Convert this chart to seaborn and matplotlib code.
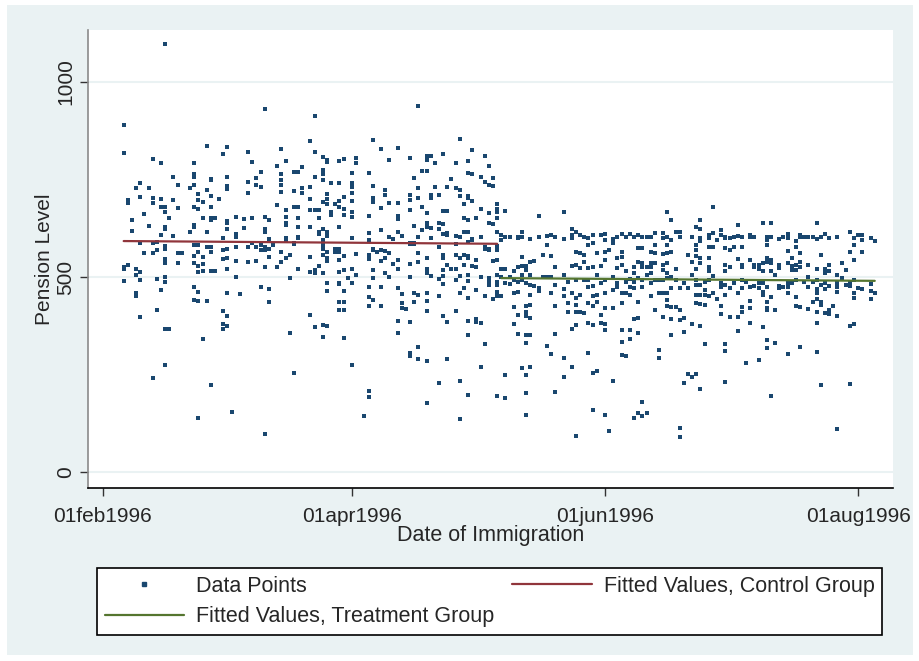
import numpy as np
import pandas as pd
import seaborn as sns
import matplotlib.pyplot as plt
from matplotlib.patches import Rectangle
from matplotlib.lines import Line2D

# x axis: days since 01feb1996
start = pd.Timestamp('1996-02-01')
tick_dates = ['1996-02-01', '1996-04-01', '1996-06-01', '1996-08-01']
tick_labels = ['01feb1996', '01apr1996', '01jun1996', '01aug1996']
y_ticks = [0, 500, 1000]

# control group (immigrated before the cutoff)
ctrl_days = [5, 6, 7, 8, 9, 10, 11, 12, 13, 14, 15, 16, 17, 18, 19, 21, 22, 23, 24, 25,
             26, 27, 28, 29, 30, 31, 32, 33, 34, 35, 36, 37, 38, 39, 40, 41, 42, 43, 44, 45,
             46, 47, 48, 50, 51, 52, 53, 54, 55, 56, 57, 58, 59, 60, 61, 63, 64, 65, 66, 67,
             68, 69, 70, 71, 72, 73, 74, 75, 76, 77, 78, 79, 80, 81, 82, 83, 84, 85, 86, 87,
             88, 89, 90, 91, 92, 93, 94, 95]
ctrl_vals = [
    [890, 818, 526, 520, 490], [696, 690, 531], [646, 618], [728, 520, 505, 459, 451],
    [741, 706, 588, 513, 492, 397], [662, 561], [728, 631], [802, 703, 690, 588, 561, 241],
    [590, 569, 495, 415], [792, 700, 680, 608, 467],
    [1097, 680, 667, 628, 623, 579, 572, 546, 536, 500, 487, 367, 274], [651, 367],
    [756, 696, 605], [736, 677, 562, 536], [562], [728, 615],
    [792, 764, 756, 736, 680, 633, 628, 582, 554, 536, 474, 441],
    [713, 696, 674, 582, 564, 528, 513, 462, 438, 138], [692, 651, 551, 533, 515, 341],
    [836, 723, 615, 578, 438], [752, 749, 708, 680, 651, 646, 577, 564, 515, 223],
    [651, 515], [700], [815, 600, 569, 546, 413, 379, 367],
    [833, 756, 733, 726, 644, 638, 623, 572, 549, 520, 459, 400, 374], [154],
    [654, 610, 603, 577, 541, 500], [456], [649, 626], [819, 744, 715, 577, 538],
    [795, 651, 587], [754, 736, 577, 541], [769, 731, 582, 569, 474],
    [931, 654, 623, 615, 577, 569, 526, 97], [646, 597, 572, 551, 469, 436], [582],
    [784, 685, 526], [828, 764, 749, 736, 718, 564, 538],
    [797, 672, 654, 638, 633, 600, 595, 549], [556, 497, 356],
    [769, 720, 680, 587, 585, 254], [769, 680, 651, 628, 603, 600, 520], [782, 728, 715],
    [849, 731, 700, 672, 628, 551, 513, 403], [913, 820, 756, 672, 518, 510, 372],
    [672, 651, 615, 610, 528],
    [808, 774, 764, 749, 692, 623, 595, 592, 582, 572, 556, 510, 377, 346],
    [800, 795, 713, 700, 687, 615, 605, 564, 549, 541, 485, 464, 374], [741, 667, 659],
    [687, 572, 564], [797, 741, 695, 680, 628, 572, 564, 544, 513, 485, 482, 436, 415],
    [802, 705, 674, 659, 554, 518, 464, 436, 415, 344], [497],
    [767, 741, 731, 715, 695, 667, 654, 600, 520, 485, 274], [805, 792, 559, 505], [144],
    [767, 656, 613, 595, 592, 556, 546, 474, 449, 426, 208, 192],
    [851, 733, 703, 692, 572, 570, 518, 497, 441], [564],
    [828, 677, 621, 569, 541, 474, 426], [723, 710, 567, 549, 510],
    [800, 690, 603, 562, 500], [597, 533],
    [831, 690, 656, 649, 615, 544, 520, 472, 387, 356], [605, 456, 433, 420], [418],
    [805, 710, 698, 672, 587, 585, 533, 500, 385, 305, 297],
    [754, 631, 587, 585, 459, 436], [939, 728, 703, 603, 562, 538, 454, 321, 290],
    [772, 680, 621], [810, 800, 772, 664, 638, 628, 549, 520, 510, 459, 438, 413, 285, 177],
    [810, 710, 703, 626, 600, 503], [792, 731], [710, 638, 623, 577, 495, 451, 228],
    [815, 669, 636, 610, 556, 549, 518, 503, 482, 400], [731, 669, 613, 608, 530, 385, 290],
    [751, 520], [792, 728, 605, 585, 556, 520, 492, 413],
    [854, 723, 708, 603, 549, 503, 459, 233, 136], [687, 651, 615, 556, 531, 472],
    [797, 767, 708, 703, 646, 615, 590, 554, 549, 505, 490, 446, 387, 351, 197],
    [826, 764, 695, 597, 595, 528], [651, 544, 526, 467, 392, 384],
    [756, 674, 603, 500, 382, 269], [810, 744, 577, 572, 451, 328],
    [785, 736, 664, 638, 572, 569, 497, 487, 479], [754, 733, 636, 541, 444],
    [687, 674, 667, 651, 614, 580, 569, 543, 505, 487, 480, 462, 451, 195],
]

# treatment group (immigrated after the cutoff)
treat_days = [96, 97, 98, 99, 100, 101, 102, 103, 104, 105, 106, 107, 108, 109, 111, 112,
              113, 114, 115, 116, 117, 118, 119, 120, 121, 122, 123, 124, 125, 126, 127, 128,
              129, 130, 131, 132, 133, 134, 135, 136, 137, 138, 139, 140, 141, 142, 143, 144,
              145, 146, 147, 148, 149, 150, 151, 152, 153, 154, 155, 156, 157, 158, 159, 160,
              161, 162, 163, 164, 165, 166, 167, 168, 169, 170, 171, 172, 173, 174, 175, 176,
              177, 178, 179, 180, 181, 182, 183, 185, 186]
treat_vals = [
    [608, 595, 520, 501, 450], [670, 603, 520, 484, 249, 189], [603, 499, 482],
    [514, 492, 460, 422, 379], [603, 599, 526, 488, 462, 402, 354],
    [616, 603, 550, 528, 505, 492, 266],
    [528, 518, 484, 426, 411, 400, 351, 330, 249, 203, 146],
    [597, 539, 505, 479, 454, 428, 396, 351, 268], [541, 477], [655, 603, 471, 464],
    [556, 499], [605, 582, 499, 324], [608, 554, 501, 458, 302],
    [603, 526, 479, 426, 353, 206], [666, 597, 505, 468, 451, 291, 244], [488, 434, 411],
    [622, 608, 599, 528, 458, 366, 268], [614, 565, 531, 491, 445, 428, 411, 377, 93],
    [608, 561, 522, 454, 411], [603, 556, 539, 491, 407],
    [599, 582, 522, 492, 475, 432, 381, 306], [608, 586, 525, 477, 450, 426, 376, 253, 159],
    [561, 505, 454, 437, 260], [608, 528, 484, 402, 381],
    [610, 595, 565, 543, 492, 458, 420, 379, 364, 146], [569, 106],
    [597, 586, 501, 467, 420, 232], [603, 548, 522, 484, 474],
    [610, 565, 550, 531, 458, 432, 364, 334, 300], [603, 516, 488, 460, 297],
    [610, 494, 475, 454, 364, 342], [603, 525, 509, 488, 471, 391, 138],
    [608, 574, 539, 497, 435, 394, 356, 150], [603, 574, 535, 525, 492, 475, 180, 144],
    [603, 526, 505, 150], [603, 565, 535, 526, 509, 484, 450],
    [612, 582, 562, 535, 492, 414], [492, 458, 313, 291],
    [612, 599, 559, 531, 518, 492, 460, 398], [666, 603, 582, 562, 535, 509, 497, 458, 441, 426],
    [645, 595, 565, 501, 471, 424, 391, 351], [616, 520, 492, 424],
    [616, 602, 471, 414, 390, 114, 90], [484, 394, 360, 229], [556, 471, 251],
    [602, 539, 505, 379, 243], [627, 582, 569, 554, 520, 492, 479, 454, 432, 251],
    [646, 622, 599, 591, 548, 535, 479, 454, 431, 373, 212], [488, 467, 454, 428, 328],
    [608, 599, 576, 548, 526, 514, 492, 450], [679, 612, 576, 503, 460], [595, 443],
    [620, 608, 484, 475, 426, 404], [603, 599, 574, 531, 514, 479, 454, 328, 311, 230],
    [599, 569, 526, 471, 398], [603, 576, 484], [633, 605, 545, 458, 397, 362],
    [603, 576, 531, 525, 492, 471, 424, 411], [488, 279],
    [608, 602, 543, 475, 439, 420, 381], [602, 531, 525, 477], [531, 520, 484, 471, 287],
    [639, 537, 514, 484, 462, 454, 371],
    [603, 595, 582, 548, 539, 475, 437, 420, 414, 339, 317],
    [638, 602, 543, 535, 514, 448, 195], [505, 414, 330], [597, 531, 522, 477, 471],
    [603, 475], [610, 599, 567, 535, 484, 475, 460, 302], [548, 528, 518, 484],
    [593, 578, 531, 518, 492, 448, 426], [608, 602, 561, 539, 525, 424, 321], [602, 488],
    [603, 531, 499, 473, 417], [602, 488, 437],
    [639, 597, 520, 492, 468, 458, 443, 409, 383, 308], [602, 556, 479, 437, 428, 223],
    [610, 520, 509, 484, 468, 407], [599, 531, 514, 477, 415, 404], [426],
    [603, 505, 484, 475, 462, 400, 109], [537, 497], [518, 479],
    [614, 565, 488, 477, 373, 226], [599, 582, 543, 492, 458, 445, 379], [608, 471],
    [608, 595, 565, 468], [599, 482, 465, 443], [593, 458],
]

# fitted values (linear fit per group) at the first and last day of each group
ctrl_fit = [592, 585]
treat_fit = [497, 490]

rows = [(d, v, 'Control') for d, vs in zip(ctrl_days, ctrl_vals) for v in vs]
rows += [(d, v, 'Treatment') for d, vs in zip(treat_days, treat_vals) for v in vs]
df = pd.DataFrame(rows, columns=['day', 'pension', 'group'])

fit_ctrl = pd.DataFrame({'day': [ctrl_days[0], ctrl_days[-1]], 'fit': ctrl_fit})
fit_treat = pd.DataFrame({'day': [treat_days[0], treat_days[-1]], 'fit': treat_fit})

navy = '#1A476F'
maroon = '#90353B'
green = '#55752F'
bg = '#EAF2F3'

sns.set_style('ticks')
plt.rcParams['font.family'] = ['Liberation Sans', 'DejaVu Sans']

fig = plt.figure(figsize=(9.19, 6.61), dpi=100)
fig.patches.append(Rectangle((7 / 919, 6 / 661), 906 / 919, 650 / 661,
                             transform=fig.transFigure, facecolor=bg,
                             edgecolor='none', zorder=-1))
ax = fig.add_axes([88 / 919, 1 - 488 / 661, 805 / 919, 458 / 661])
ax.set_facecolor('white')

sns.scatterplot(data=df, x='day', y='pension', ax=ax, color=navy, marker='s',
                s=11, linewidth=0, legend=False, zorder=3)
sns.lineplot(data=fit_ctrl, x='day', y='fit', ax=ax, color=maroon, lw=1.6, zorder=4)
sns.lineplot(data=fit_treat, x='day', y='fit', ax=ax, color=green, lw=1.6, zorder=4)

ax.set_xlim(-3.6, 190.4)
ax.set_ylim(-41, 1133)
tick_days = (pd.to_datetime(tick_dates) - start).days
ax.set_xticks(tick_days)
ax.set_xticklabels(tick_labels)
ax.set_yticks(y_ticks)
ax.set_yticklabels([str(t) for t in y_ticks], rotation=90, va='center')
ax.yaxis.grid(True, color=bg, lw=1.5)
ax.set_axisbelow(True)

for s in ['top', 'right']:
    ax.spines[s].set_visible(False)
ax.spines['left'].set_color('#8a8a8a')
ax.spines['bottom'].set_color('black')
ax.spines['left'].set_linewidth(1.2)
ax.spines['bottom'].set_linewidth(1.2)
ax.tick_params(axis='both', length=6, width=1, labelsize=15, color='#333333')
ax.tick_params(axis='x', pad=8)
ax.tick_params(axis='y', pad=3)

ax.set_xlabel('Date of Immigration', fontsize=15.5, labelpad=-1)
ax.set_ylabel('Pension Level', fontsize=15, labelpad=1.5)

handles = [Line2D([], [], marker='s', ls='none', color=navy, markersize=2.5),
           Line2D([], [], color=green, lw=1.6),
           Line2D([], [], color=maroon, lw=1.6)]
labels = ['Data Points', 'Fitted Values, Treatment Group', 'Fitted Values, Control Group']
leg = fig.legend(handles, labels, ncol=2, loc='lower left',
                 bbox_to_anchor=(97 / 919, 1 - 635 / 661, 785 / 919, 75 / 661),
                 bbox_transform=fig.transFigure, mode='expand', frameon=True,
                 fancybox=False, edgecolor='black', framealpha=1, fontsize=15.5,
                 handlelength=3.7, handletextpad=0.55, labelspacing=0.45,
                 borderpad=0.35, borderaxespad=0)
leg.get_frame().set_linewidth(1.2)

fig.savefig('out.png', dpi=100, facecolor='white')
